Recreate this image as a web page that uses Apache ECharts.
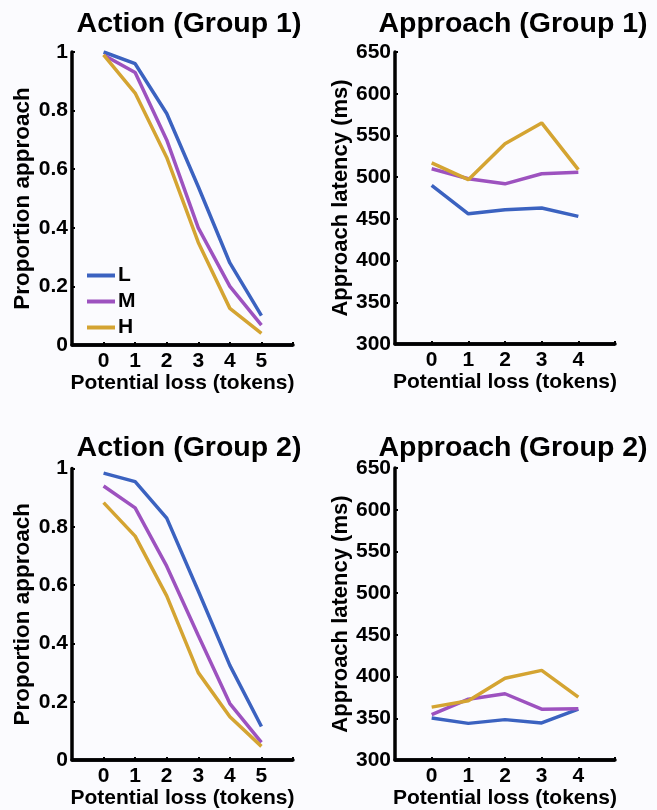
<!DOCTYPE html>
<html>
<head>
<meta charset="utf-8">
<script src="https://cdn.jsdelivr.net/npm/echarts@6/dist/echarts.min.js"></script>
</head>
<body style="margin:0;background:#fbfbfe">
<div id="main" style="width:657px;height:810px"></div>
<script>
// levels of the legend
const levels = ['L', 'M', 'H'];
const colors = ['#3b62c0', '#9d52bf', '#d4a432'];

// x ticks (potential loss)
const lossAction = [0, 1, 2, 3, 4, 5];
const lossApproach = [0, 1, 2, 3, 4];

// Action (Group 1) - proportion approach
const act1L = [1.0, 0.96, 0.79, 0.54, 0.28, 0.10];
const act1M = [0.99, 0.93, 0.70, 0.40, 0.20, 0.068];
const act1H = [0.99, 0.86, 0.64, 0.35, 0.125, 0.04];

// Approach (Group 1) - latency ms
const app1L = [490, 456, 461, 463, 453];
const app1M = [510, 498, 492, 504, 506];
const app1H = [517, 497, 540, 565, 509];

// Action (Group 2)
const act2L = [0.984, 0.955, 0.83, 0.58, 0.325, 0.115];
const act2M = [0.94, 0.865, 0.665, 0.427, 0.194, 0.061];
const act2H = [0.883, 0.768, 0.563, 0.30, 0.149, 0.047];

// Approach (Group 2)
const app2L = [350.5, 344, 348.5, 344.5, 361];
const app2M = [354.5, 373, 379.5, 361, 361.5];
const app2H = [363.5, 371, 398, 407.5, 375.5];

const titles = ['Action (Group 1)', 'Approach (Group 1)', 'Action (Group 2)', 'Approach (Group 2)'];

const font = 'Liberation Sans, Arial, Helvetica, sans-serif';

function labelStyle(size) {
	return { color: '#000', fontSize: size || 21, fontWeight: 'bold', fontFamily: font };
}

function xA(i, ticks) {
	const a = {
		type: 'value', gridIndex: i, min: -1, max: ticks.length, interval: 1,
		name: 'Potential loss (tokens)', nameLocation: 'middle', nameGap: 27, nameTextStyle: labelStyle(),
		axisLine: { show: true, onZero: false, lineStyle: { color: '#000', width: 3.5 } },
		axisTick: { show: true, inside: true, length: 3, lineStyle: { color: '#000', width: 2 } },
		axisLabel: Object.assign({ margin: 6 }, labelStyle()),
		splitLine: { show: false }
	};
	a.axisLabel.formatter = v => (ticks.indexOf(v) >= 0 ? String(v) : '');
	return a;
}

function yA(i, isAction) {
	// bottom split line doubles as the x axis line
	const lineColors = ['#0b0b14', 'rgba(0,0,0,0)', 'rgba(0,0,0,0)', 'rgba(0,0,0,0)',
		'rgba(0,0,0,0)', 'rgba(0,0,0,0)', 'rgba(0,0,0,0)', 'rgba(0,0,0,0)'];
	return {
		type: 'value', gridIndex: i,
		min: isAction ? 0 : 300, max: isAction ? 1 : 650, interval: isAction ? 0.2 : 50,
		name: isAction ? 'Proportion approach' : 'Approach latency (ms)',
		nameLocation: 'middle', nameGap: isAction ? 38 : 42,
		nameTextStyle: labelStyle(isAction ? 22.5 : 22),
		axisLine: { show: true, onZero: false, lineStyle: { color: '#000', width: 3.5 } },
		axisTick: { show: true, inside: true, length: 3, lineStyle: { color: '#000', width: 2 } },
		axisLabel: Object.assign({ margin: 4 }, labelStyle()),
		splitLine: { show: true, lineStyle: { color: lineColors, width: 3.5 } }
	};
}

function ser(i, xs, lists) {
	return lists.map((v, k) => ({
		name: levels[k], type: 'line', xAxisIndex: i, yAxisIndex: i, showSymbol: false, symbol: 'none',
		lineStyle: { width: 3.5, color: colors[k] }, itemStyle: { color: colors[k] },
		data: xs.map((x, j) => [x, v[j]])
	}));
}

const chart = echarts.init(document.getElementById('main'));
chart.setOption({
	backgroundColor: '#fbfbfe',
	animation: false,
	title: titles.map((t, i) => ({
		text: t, left: i % 2 === 0 ? 184 : 508, top: i < 2 ? 5 : 429, textAlign: 'center',
		textStyle: { color: '#000', fontSize: 28.5, fontWeight: 'bold', fontFamily: font }
	})),
	legend: {
		data: levels, orient: 'vertical', left: 82, top: 260, icon: 'rect',
		itemWidth: 28, itemHeight: 4, itemGap: 5,
		textStyle: { color: '#000', fontSize: 21, fontWeight: 'bold', fontFamily: font, padding: [0, 0, 0, -2] }
	},
	grid: [
		{ left: 72, top: 52, width: 221, height: 293 },
		{ left: 395, top: 52, width: 220, height: 292 },
		{ left: 72, top: 468.5, width: 221, height: 293.5 },
		{ left: 395, top: 468, width: 220, height: 294 }
	],
	xAxis: [xA(0, lossAction), xA(1, lossApproach), xA(2, lossAction), xA(3, lossApproach)],
	yAxis: [yA(0, true), yA(1, false), yA(2, true), yA(3, false)],
	series: [].concat(
		ser(0, lossAction, [act1L, act1M, act1H]),
		ser(1, lossApproach, [app1L, app1M, app1H]),
		ser(2, lossAction, [act2L, act2M, act2H]),
		ser(3, lossApproach, [app2L, app2M, app2H])
	)
});
</script>
</body>
</html>
